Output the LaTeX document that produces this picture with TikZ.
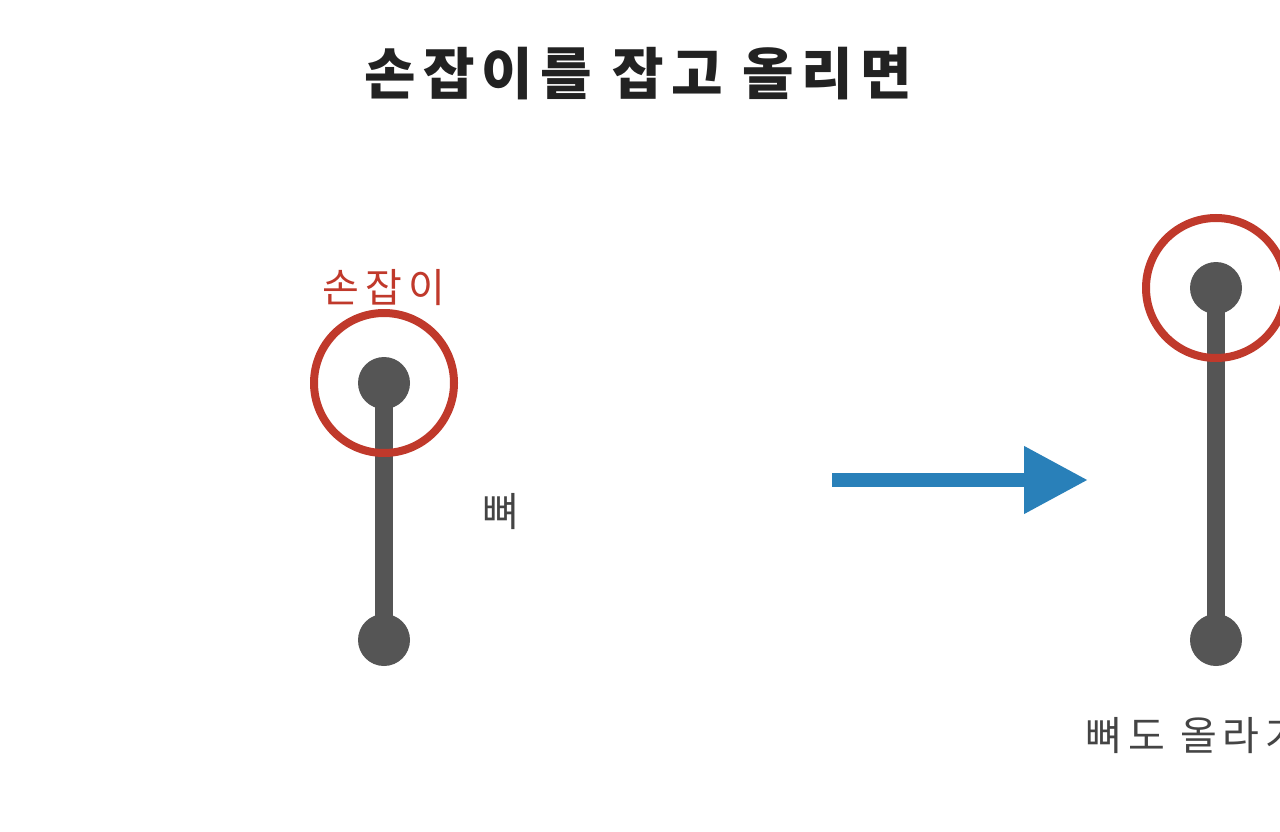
\documentclass[tikz,border=0pt]{standalone}
\usepackage{fontspec}
\newfontfamily\kr{Noto Sans CJK KR}
\newfontfamily\krwide[LetterSpace=15]{Noto Sans CJK KR}
\newfontfamily\krtitle[LetterSpace=13]{Noto Sans CJK KR}
\usetikzlibrary{positioning, arrows.meta}
\definecolor{bonegray}{HTML}{555555}
\definecolor{handlered}{HTML}{C0392B}
\definecolor{arrowblue}{HTML}{2980B9}
\definecolor{titlegray}{HTML}{222222}
\tikzset{
  joint/.style={circle, fill=bonegray, inner sep=0pt, minimum size=52pt},
  bone/.style={bonegray, line width=18pt},
  grip/.style={circle, draw=handlered, line width=8pt, inner sep=0pt, minimum size=140pt},
  label/.style={font=\krwide\fontsize{40}{48}\selectfont, text=bonegray!80!black}
}
\begin{document}
\begin{tikzpicture}[x=1pt, y=-1pt]
\clip (0,0) rectangle (1280,832);
\fill[white] (0,0) rectangle (1280,832);

% Title
\node[font=\krtitle\bfseries\fontsize{56}{64}\selectfont, text=titlegray] (title) at (638,74) {손잡이를 잡고 올리면};

% Before: bone with handle
\node[joint] (topA) at (384,383) {};
\node[joint] (botA) at (384,640) {};
\draw[bone] (topA.center) -- (botA.center);
\node[grip] (gripA) at (topA) {};
\node[label, text=handlered, above=0pt of gripA] (handleA) {손잡이};
\node[label] (boneA) at (501,512) {뼈};

% Arrow
\coordinate (arrS) at (832,480);
\coordinate (arrE) at (1088,480);
\draw[arrowblue, line width=14pt, -{Triangle[length=64pt, width=64pt]}] (arrS) -- (arrE);

% After: bone lifted
\node[joint] (topB) at (1216,288) {};
\node[joint] (botB) at (1216,640) {};
\draw[bone] (topB.center) -- (botB.center);
\node[grip] (gripB) at (topB) {};
\node[label, anchor=west] (boneB) at (1082,736) {뼈도 올라가};

\end{tikzpicture}
\end{document}
